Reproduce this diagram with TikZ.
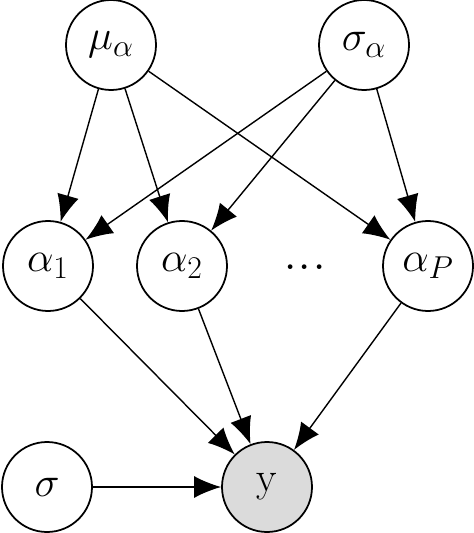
\RequirePackage{fix-cm}
\documentclass[tikz,border=0pt]{standalone}
\usepackage{xcolor}
\usepackage{tikz}
\usetikzlibrary{arrows.meta}

\DeclareMathSizes{24}{24}{18}{14}
\definecolor{obsgray}{gray}{0.86}

\begin{document}
\begin{tikzpicture}[
    bigtext/.style={font=\fontsize{24}{28}\selectfont},
    latent/.style={circle,draw,line width=1pt,minimum size=1.8cm,inner sep=0pt,bigtext},
    observed/.style={latent,fill=obsgray},
    edge/.style={-{Latex[length=0.54cm,width=0.44cm]},line width=0.8pt}
  ]
  \useasboundingbox (0,0) rectangle (9.48,-10.66);

  % hyperpriors
  \node[latent] (mu) at (2.22,-0.9) {$\mu_\alpha$};
  \node[latent] (sa) at (7.28,-0.9) {$\sigma_\alpha$};

  % coefficients
  \node[latent] (a1) at (0.96,-5.32) {$\alpha_1$};
  \node[latent] (a2) at (3.64,-5.32) {$\alpha_2$};
  \node[bigtext,scale=1.35] (dots) at (6.1,-5.34) {...};
  \node[latent] (aP) at (8.56,-5.32) {$\alpha_P$};

  % likelihood
  \node[latent] (sig) at (0.94,-9.74) {$\sigma$};
  \node[observed] (y) at (5.34,-9.74) {y};

  \foreach \a in {a1,a2,aP} {
    \draw[edge] (mu) -- (\a);
    \draw[edge] (sa) -- (\a);
    \draw[edge] (\a) -- (y);
  }
  \draw[edge] (sig) -- (y);
\end{tikzpicture}
\end{document}
